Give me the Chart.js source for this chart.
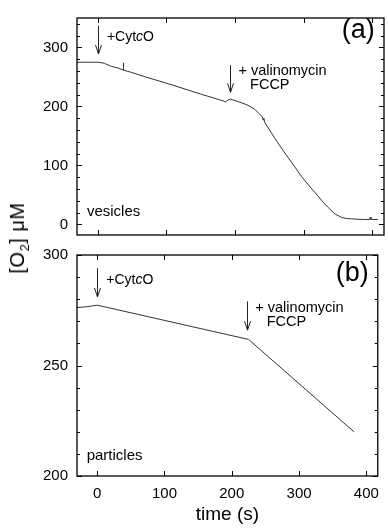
<!DOCTYPE html>
<html>
<head>
<meta charset="utf-8">
<script src="https://cdn.jsdelivr.net/npm/chart.js@4/dist/chart.umd.min.js"></script>
<style>
	body { margin: 0; background: #fff; }
	#wrap { position: relative; width: 388px; height: 529px; }
	#wrap canvas { position: absolute; left: 0; top: 0; }
	#ylabel {
		position: absolute; left: 19px; top: 238px;
		transform: translate(-50%, -50%) rotate(-90deg);
		font: 20px "Liberation Sans", Arial, sans-serif; white-space: nowrap; color: #000;
		letter-spacing: 0.5px;
	}
	#ylabel sub { font-size: 13px; }
</style>
</head>
<body>
<div id="wrap">
	<canvas id="chart-a" width="388" height="529"></canvas>
	<canvas id="chart-b" width="388" height="529"></canvas>
	<div id="ylabel">[O<sub>2</sub>]&nbsp;&mu;M</div>
</div>
<script>
( function() {
	'use strict';

	// panel (a) - vesicles
	var timeA = [-30, -20, -10, 0, 5, 10, 20, 30, 37, 37.5, 38, 50, 70, 90, 110, 130, 150, 170, 184, 186, 190, 193,
		200, 210, 219, 229, 235, 240, 241, 242, 243.5, 258, 272.6, 285, 297, 309, 321, 328, 335.7, 345.4, 355, 362,
		369.7, 380, 389, 396, 397, 398, 408];
	var o2A = [275, 275, 275, 275, 274.3, 273, 268, 265, 262, 274, 261.5, 257.5, 250, 243, 236, 228.5, 221, 214, 209, 207.5, 211, 212.5,
		210, 206, 202, 195, 188, 182, 177, 180, 172.7, 146, 121, 101, 81, 64, 48, 38, 28.7, 17.8, 12, 10,
		9.4, 8.6, 8.3, 8.3, 12, 8.3, 8.3];

	// panel (b) - particles
	var timeB = [-30, -15, 0, 225, 381.6];
	var o2B = [276.2, 276.6, 277.3, 261.8, 220];

	var xTicks = [0, 100, 200, 300, 400];
	var yTicksA = [0, 100, 200, 300];
	var yTicksB = [200, 250, 300];

	var FONT = '"Liberation Sans", Arial, sans-serif';

	function toPoints(xs, ys) {
		return xs.map(function(x, i) { return {x: x, y: ys[i]}; });
	}

	function setTicks(values) {
		return function(scale) {
			scale.ticks = values.map(function(v) { return {value: v}; });
		};
	}

	// texto com partes em itálico
	function drawParts(ctx, parts, x, y, size) {
		parts.forEach(function(p) {
			ctx.font = (p[1] ? 'italic ' : '') + size + 'px ' + FONT;
			ctx.fillText(p[0], x, y);
			x += ctx.measureText(p[0]).width;
		});
	}

	/**
	 * Moldura, ticks internos, setas e textos
	 */
	var framePlugin = {
		id: 'frame',
		afterDraw: function(chart, args, opts) {
			var ctx = chart.ctx;
			var a = chart.chartArea;
			var xs = chart.scales.x;
			var ys = chart.scales.y;

			ctx.save();
			ctx.strokeStyle = '#000';
			ctx.lineWidth = 1.3;
			ctx.strokeRect(a.left, a.top, a.right - a.left, a.bottom - a.top);

			ctx.lineWidth = 1;
			ctx.beginPath();
			xTicks.forEach(function(v) {
				var px = Math.round(xs.getPixelForValue(v)) + 0.5;
				ctx.moveTo(px, a.bottom); ctx.lineTo(px, a.bottom - 5);
				ctx.moveTo(px, a.top); ctx.lineTo(px, a.top + 5);
			});
			var step = opts.minorStep;
			for (var v = Math.ceil(ys.min / step) * step; v <= ys.max; v += step) {
				var len = opts.majorTicks.indexOf(v) >= 0 ? 5 : 3;
				var py = Math.round(ys.getPixelForValue(v)) + 0.5;
				ctx.moveTo(a.left, py); ctx.lineTo(a.left + len, py);
				ctx.moveTo(a.right, py); ctx.lineTo(a.right - len, py);
			}
			ctx.stroke();

			// setas
			ctx.strokeStyle = '#222';
			opts.arrows.forEach(function(ar) {
				var px = Math.round(xs.getPixelForValue(ar.x)) + 0.5;
				var y1 = ys.getPixelForValue(ar.y1);
				var y2 = ys.getPixelForValue(ar.y2);
				ctx.beginPath();
				ctx.moveTo(px, y1); ctx.lineTo(px, y2);
				ctx.moveTo(px - 3, y2 - 9); ctx.lineTo(px, y2); ctx.lineTo(px + 3, y2 - 9);
				ctx.stroke();
			});

			// textos
			ctx.fillStyle = '#000';
			ctx.textBaseline = 'middle';
			opts.notes.forEach(function(n) {
				ctx.textAlign = n.align || 'left';
				drawParts(ctx, n.parts, xs.getPixelForValue(n.x), ys.getPixelForValue(n.y), n.size);
			});
			ctx.restore();
		}
	};

	function baseScales(yMin, yMax, yTicks) {
		return {
			x: {
				type: 'linear', min: -30, max: 417,
				afterBuildTicks: setTicks(xTicks),
				grid: {display: false, drawTicks: false},
				border: {display: false},
				ticks: {display: false}
			},
			y: {
				type: 'linear', min: yMin, max: yMax,
				afterBuildTicks: setTicks(yTicks),
				afterFit: function(s) { s.width = 77; },
				grid: {display: false, drawTicks: false},
				border: {display: false},
				ticks: {color: '#000', padding: 9, font: {family: FONT, size: 15}}
			}
		};
	}

	function dataset(xs, ys) {
		return {
			data: toPoints(xs, ys),
			borderColor: '#333',
			borderWidth: 1,
			pointRadius: 0,
			tension: 0
		};
	}

	var scalesA = baseScales(-18, 350, yTicksA);
	scalesA.x.afterFit = function(s) { s.height = 0; };

	new Chart(document.getElementById('chart-a'), {
		type: 'line',
		data: {datasets: [dataset(timeA, o2A)]},
		options: {
			responsive: false,
			animation: false,
			layout: {padding: {left: 0, top: 13, right: 4, bottom: 294}},
			plugins: {
				legend: {display: false},
				tooltip: {enabled: false},
				frame: {
					minorStep: 20,
					majorTicks: yTicksA,
					arrows: [{x: 0, y1: 337, y2: 289}, {x: 193, y1: 270, y2: 224}],
					notes: [
						{x: 13.5, y: 317, size: 14, parts: [['+Cyt', 0], ['c', 1], ['O', 0]]},
						{x: 205, y: 260, size: 14.5, parts: [['+ valinomycin', 0]]},
						{x: 222, y: 237, size: 14.5, parts: [['FCCP', 0]]},
						{x: -15.6, y: 20.4, size: 15, parts: [['vesicles', 0]]},
						{x: 403.5, y: 328, size: 27, align: 'right', parts: [['(a)', 0]]}
					]
				}
			},
			scales: scalesA
		},
		plugins: [framePlugin]
	});

	var scalesB = baseScales(200, 300, yTicksB);
	scalesB.x.afterFit = function(s) { s.height = 53; };
	scalesB.x.ticks = {color: '#000', padding: 9, font: {family: FONT, size: 15}};
	scalesB.x.title = {display: true, text: 'time (s)', color: '#000',
		font: {family: FONT, size: 19}, padding: {top: 0, bottom: 3}};

	new Chart(document.getElementById('chart-b'), {
		type: 'line',
		data: {datasets: [dataset(timeB, o2B)]},
		options: {
			responsive: false,
			animation: false,
			layout: {padding: {left: 0, top: 255, right: 4, bottom: 0}},
			plugins: {
				legend: {display: false},
				tooltip: {enabled: false},
				frame: {
					minorStep: 10,
					majorTicks: yTicksB,
					arrows: [{x: 0, y1: 294, y2: 281}, {x: 222.7, y1: 279, y2: 266}],
					notes: [
						{x: 13.5, y: 288.6, size: 14, parts: [['+Cyt', 0], ['c', 1], ['O', 0]]},
						{x: 235, y: 276, size: 14.5, parts: [['+ valinomycin', 0]]},
						{x: 252, y: 269.7, size: 14.5, parts: [['FCCP', 0]]},
						{x: -15.6, y: 209, size: 15, parts: [['particles', 0]]},
						{x: 403.5, y: 291.5, size: 27, align: 'right', parts: [['(b)', 0]]}
					]
				}
			},
			scales: scalesB
		},
		plugins: [framePlugin]
	});
})();
</script>
</body>
</html>
